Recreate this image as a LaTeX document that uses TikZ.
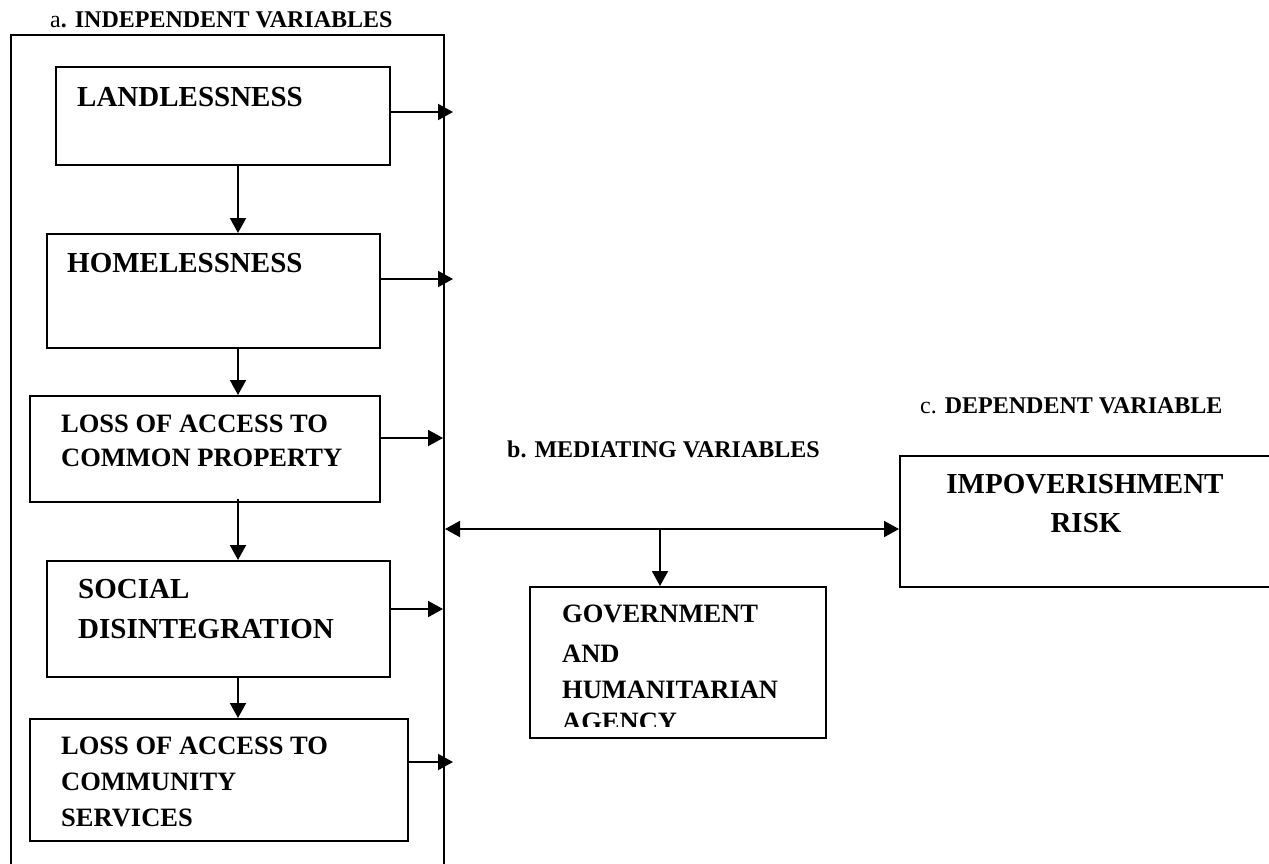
\documentclass[tikz,border=0pt]{standalone}
\usepackage{fontspec}
\setmainfont{Liberation Serif}
\usetikzlibrary{arrows.meta}
\begin{document}
\begin{tikzpicture}[x=1pt,y=-1pt,
  box/.style={draw, line width=2pt, rectangle, inner sep=0pt, anchor=north west},
  big/.style={anchor=base west, inner sep=0pt, font=\fontsize{29}{35}\selectfont\bfseries},
  mid/.style={anchor=base west, inner sep=0pt, font=\fontsize{26.5}{32}\selectfont\bfseries},
  ttl/.style={anchor=base west, inner sep=0pt, font=\fontsize{24}{28}\selectfont},
  arr/.style={line width=2pt, -{Triangle[length=15pt,width=16pt]}},
  darr/.style={line width=2pt, {Triangle[length=15pt,width=16pt]}-{Triangle[length=15pt,width=16pt]}},
]
\useasboundingbox (0,0) rectangle (1269,863);
\clip (0,0) rectangle (1269,863);

% titles
\node[ttl] (ta) at (50,27) {a\textbf{. INDEPENDENT VARIABLES}};
\node[ttl] (tb) at (507,457) {\textbf{b. MEDIATING VARIABLES}};
\node[ttl] (tc) at (920,413) {c. \textbf{DEPENDENT VARIABLE}};

% outer box
\node[box, minimum width=433pt, minimum height=866pt] (outer) at (10,34) {};

% boxes
\node[box, minimum width=334pt, minimum height=98pt] (land) at (55,66) {};
\node[box, minimum width=333pt, minimum height=114pt] (home) at (46,233) {};
\node[box, minimum width=350pt, minimum height=106pt] (comm) at (29,395) {};
\node[box, minimum width=343pt, minimum height=116pt] (soc) at (46,560) {};
\node[box, minimum width=378pt, minimum height=122pt] (serv) at (29,718) {};
\node[box, minimum width=296pt, minimum height=151pt] (gov) at (529,586) {};
\node[box, minimum width=390pt, minimum height=131pt] (imp) at (899,455) {};

% texts
\node[big] (landT) at (77,106) {LANDLESSNESS};
\node[big] (homeT) at (67,272) {HOMELESSNESS};
\node[mid] (commT1) at (61,432) {LOSS OF ACCESS TO};
\node[mid] (commT2) at (61,466) {COMMON PROPERTY};
\node[big] (socT1) at (78,598) {SOCIAL};
\node[big] (socT2) at (78,638) {DISINTEGRATION};
\node[mid] (servT1) at (61,754) {LOSS OF ACCESS TO};
\node[mid] (servT2) at (61,790) {COMMUNITY};
\node[mid] (servT3) at (61,826) {SERVICES};
\node[mid] (govT1) at (562,622) {GOVERNMENT};
\node[mid] (govT2) at (562,662) {AND};
\node[mid] (govT3) at (562,698) {HUMANITARIAN};
\begin{scope}
  \clip (529,586) rectangle (825,726);
  \node[mid] (govT4) at (562,730) {AGENCY};
\end{scope}
\node[big, anchor=base] (impT1) at (1085,493) {IMPOVERISHMENT};
\node[big, anchor=base] (impT2) at (1086,532) {RISK};

% vertical chain arrows
\coordinate (vx) at (238,0);
\draw[arr] (land.south -| vx) -- (home.north -| vx);
\draw[arr] (home.south -| vx) -- (comm.north -| vx);
\draw[arr] ([yshift=4pt]comm.south -| vx) -- (soc.north -| vx);
\draw[arr] (soc.south -| vx) -- (serv.north -| vx);

% arrows to the right
\coordinate (t1) at (453,112);
\coordinate (t2) at (453,279);
\coordinate (t3) at (443,438);
\coordinate (t4) at (443,609);
\coordinate (t5) at (453,762);
\draw[arr] (t1 -| land.east) -- (t1);
\draw[arr] (t2 -| home.east) -- (t2);
\draw[arr] (t3 -| comm.east) -- (t3);
\draw[arr] (t4 -| soc.east) -- (t4);
\draw[arr] (t5 -| serv.east) -- (t5);

% mediating arrows
\coordinate (m) at (660,529);
\draw[darr] (m -| outer.east) -- (m -| imp.west);
\draw[arr] (m) -- (m |- gov.north);
\end{tikzpicture}
\end{document}
